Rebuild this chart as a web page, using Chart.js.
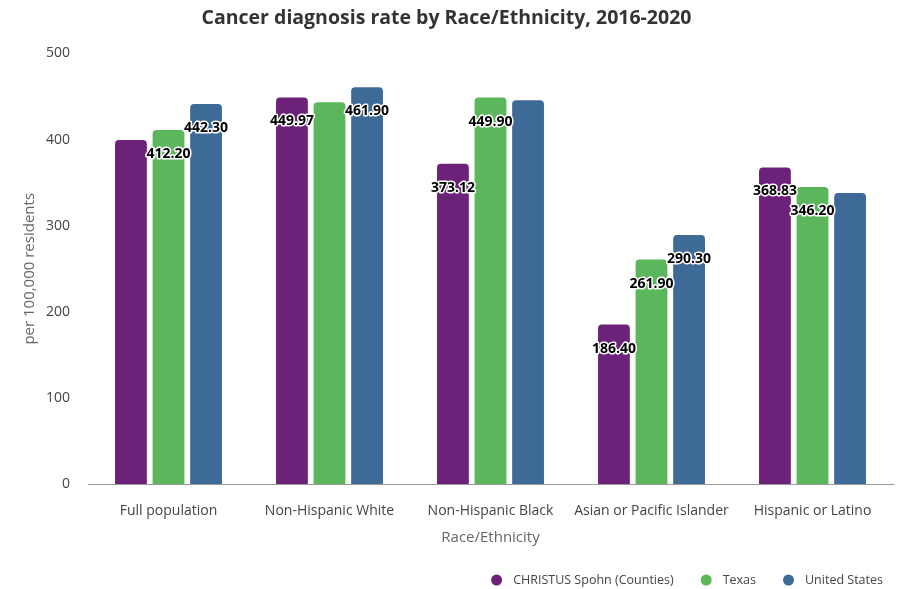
<!DOCTYPE html>
<html>
<head>
<meta charset="utf-8">
<script src="https://cdn.jsdelivr.net/npm/chart.js@4"></script>
<style>
  html, body { margin: 0; padding: 0; background: #fff; }
  #wrap { width: 898px; height: 589px; }
</style>
</head>
<body>
<div id="wrap"><canvas id="chart" width="898" height="589"></canvas></div>
<script>
// Categorías y valores
const categories = ["Full population", "Non-Hispanic White", "Non-Hispanic Black", "Asian or Pacific Islander", "Hispanic or Latino"];
const christusValues = [400.6, 449.97, 373.12, 186.40, 368.83];
const texasValues = [412.20, 444.6, 449.90, 261.90, 346.20];
const usValues = [442.30, 461.90, 446.8, 290.30, 339.2];
// Qué etiquetas se ven en la imagen
const christusShown = [false, true, true, true, true];
const texasShown = [true, false, true, true, true];
const usShown = [true, true, false, true, false];
const yTicks = [0, 100, 200, 300, 400, 500];

const colors = ["#6c2279", "#5cb65c", "#3e6a98"];
const fontFamily = "'Open Sans', sans-serif";

// Etiquetas de valor con contorno blanco
const valueLabels = {
  id: "valueLabels",
  afterDatasetsDraw(chart) {
    const ctx = chart.ctx;
    ctx.save();
    ctx.font = "bold 14px " + fontFamily;
    ctx.textAlign = "center";
    ctx.textBaseline = "middle";
    ctx.lineJoin = "round";
    chart.data.datasets.forEach((ds, i) => {
      const meta = chart.getDatasetMeta(i);
      meta.data.forEach((bar, j) => {
        if (!ds.shown[j]) return;
        const txt = ds.data[j].toFixed(2);
        const y = bar.y + 25;
        ctx.lineWidth = 3;
        ctx.strokeStyle = "#fff";
        ctx.strokeText(txt, bar.x, y);
        ctx.fillStyle = "#000";
        ctx.fillText(txt, bar.x, y);
      });
    });
    ctx.restore();
  },
};

// Leyenda propia, abajo a la derecha
const bottomLegend = {
  id: "bottomLegend",
  afterDraw(chart) {
    const ctx = chart.ctx;
    const r = 5.5;
    const y = chart.height - 9;
    const textGap = 11;
    const itemGap = 27;
    ctx.save();
    ctx.font = "12.5px " + fontFamily;
    ctx.textBaseline = "middle";
    const items = chart.data.datasets.map((ds) => ({
      label: ds.label,
      color: ds.backgroundColor,
      w: ctx.measureText(ds.label).width,
    }));
    const total = items.reduce((s, it) => s + 2 * r + textGap + it.w, 0) + itemGap * (items.length - 1);
    let x = chart.width - 15 - total;
    items.forEach((it) => {
      ctx.fillStyle = it.color;
      ctx.beginPath();
      ctx.arc(x + r, y, r, 0, Math.PI * 2);
      ctx.fill();
      x += 2 * r + textGap;
      ctx.fillStyle = "#444";
      ctx.fillText(it.label, x, y);
      x += it.w + itemGap;
    });
    ctx.restore();
  },
};

function makeDataset(label, data, shown, color) {
  return {
    label: label,
    data: data,
    shown: shown,
    backgroundColor: color,
    borderColor: "#fff",
    borderWidth: 1,
    borderRadius: { topLeft: 5, topRight: 5 },
    borderSkipped: "bottom",
    categoryPercentage: 0.7,
    barPercentage: 0.9,
  };
}

new Chart(document.getElementById("chart"), {
  type: "bar",
  data: {
    labels: categories,
    datasets: [
      makeDataset("CHRISTUS Spohn (Counties)", christusValues, christusShown, colors[0]),
      makeDataset("Texas", texasValues, texasShown, colors[1]),
      makeDataset("United States", usValues, usShown, colors[2]),
    ],
  },
  options: {
    responsive: false,
    animation: false,
    layout: { padding: { left: 0, right: 5, top: 0, bottom: 42 } },
    plugins: {
      title: {
        display: true,
        text: "Cancer diagnosis rate by Race/Ethnicity, 2016-2020",
        color: "#333",
        font: { family: fontFamily, size: 19.5, weight: "bold" },
        padding: { top: 7, bottom: 23 },
      },
      legend: { display: false },
      tooltip: { enabled: false },
    },
    scales: {
      x: {
        grid: { display: false },
        border: { display: true, color: "#999" },
        ticks: {
          color: "#444",
          font: { family: fontFamily, size: 14 },
          padding: 10,
          maxRotation: 0,
          minRotation: 0,
          autoSkip: false,
        },
        title: {
          display: true,
          text: "Race/Ethnicity",
          color: "#666",
          font: { family: fontFamily, size: 15 },
          padding: { top: 0, bottom: 0 },
        },
      },
      y: {
        min: 0,
        max: 500,
        afterBuildTicks(axis) {
          axis.ticks = yTicks.map((v) => ({ value: v }));
        },
        afterFit(axis) {
          axis.width = 88;
        },
        grid: { display: false },
        border: { display: false },
        ticks: { color: "#444", font: { family: fontFamily, size: 14 }, padding: 10 },
        title: {
          display: true,
          text: "per 100,000 residents",
          color: "#666",
          font: { family: fontFamily, size: 15 },
          padding: { top: 21, bottom: 0 },
        },
      },
    },
  },
  plugins: [valueLabels, bottomLegend],
});
</script>
</body>
</html>
